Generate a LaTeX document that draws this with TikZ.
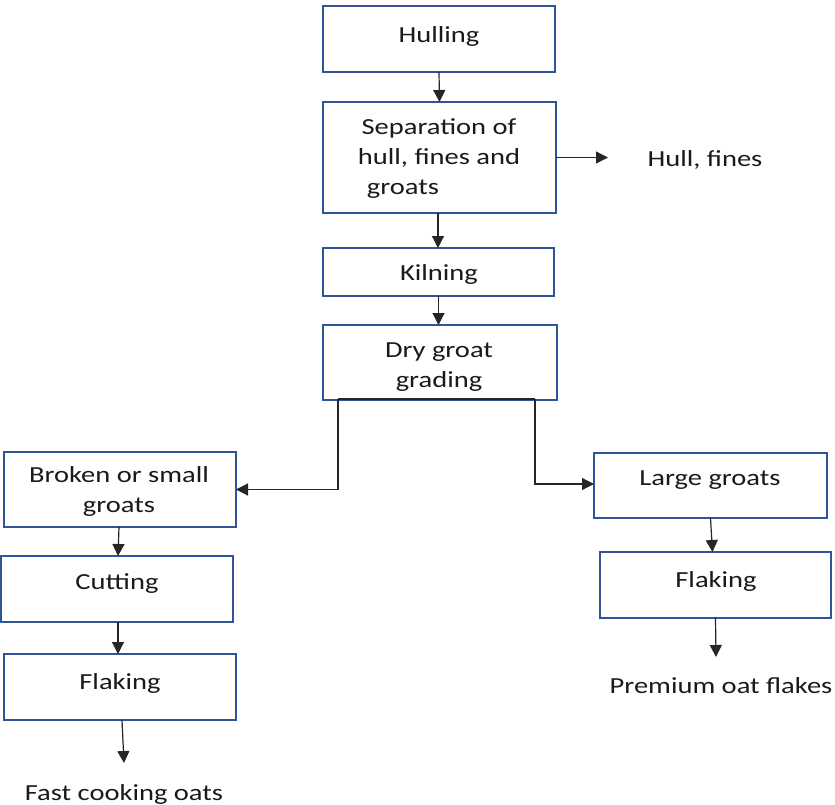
\documentclass[tikz,border=0pt]{standalone}
\usepackage{fontspec}
\setmainfont[FakeStretch=1.24]{Carlito}
\usetikzlibrary{arrows.meta}
\definecolor{boxblue}{HTML}{2F5597}
\definecolor{txtcol}{HTML}{1A1A1A}
\begin{document}
\begin{tikzpicture}[x=1pt,y=-1pt,
  box/.style={draw=boxblue, line width=2pt, inner sep=0pt, outer sep=0pt, fill=white},
  txt/.style={inner sep=0pt, align=center, text=txtcol, font=\fontsize{23}{30}\selectfont},
  conn/.style={draw=black!85, line width=1.2pt, -{Triangle[length=12pt,width=12pt]}},
  line/.style={draw=black!85, line width=1.2pt}]
\useasboundingbox (0,0) rectangle (835,805);
% boxes
\node[box, minimum width=232pt, minimum height=66pt] (hull) at (439,39) {};
\node[box, minimum width=233pt, minimum height=111pt] (sep) at (439.5,157.5) {};
\node[box, minimum width=231pt, minimum height=48pt] (kiln) at (438.5,272) {};
\node[box, minimum width=234pt, minimum height=75pt] (dry) at (440,362.5) {};
\node[box, minimum width=232pt, minimum height=75pt] (broken) at (120,489.5) {};
\node[box, minimum width=232pt, minimum height=66pt] (cut) at (117,589) {};
\node[box, minimum width=232pt, minimum height=66pt] (flakL) at (120,687) {};
\node[box, minimum width=233pt, minimum height=65pt] (large) at (710.5,485.5) {};
\node[box, minimum width=231pt, minimum height=66pt] (flakR) at (715.5,585) {};
% texts
\node[txt] (thull) at (439,36) {Hulling};
\node[txt] (tsep) at (439,159) {Separation of\\hull, fines and\\groats\hspace*{72pt}};
\node[txt] (tkiln) at (439,274) {Kilning};
\node[txt] (tdry) at (439,367) {Dry groat\\grading};
\node[txt] (tbroken) at (119,491.5) {Broken or small\\groats};
\node[txt] (tcut) at (117,584) {Cutting};
\node[txt] (tflakL) at (120,683) {Flaking};
\node[txt] (tlarge) at (710,480) {Large groats};
\node[txt] (tflakR) at (716,581) {Flaking};
\node[txt] (hf) at (705,160) {Hull, fines};
\node[txt] (fast) at (124,794) {Fast cooking oats};
\node[txt] (prem) at (721,686) {Premium oat flakes};
% helper coordinates
\coordinate (hfend) at (608,157.5);
\coordinate (lc) at (338,399);
\coordinate (rc) at (535,399);
\coordinate (fastend) at (124,763);
\coordinate (premend) at (716,657);
% connectors
\draw[conn] (hull.south) -- (sep.north);
\draw[conn] (sep.east) -- (hfend);
\draw[conn] ([xshift=-1.5pt]sep.south) -- ([xshift=-0.5pt]kiln.north);
\draw[conn] (kiln.south) -- ([xshift=-1.5pt]dry.north);
\draw[line] (lc) -- (rc);
\draw[conn] (lc) |- (broken.east);
\draw[conn] (rc) |- ([yshift=1.5pt]large.west);
\draw[conn] ([xshift=-1pt]broken.south) -- ([xshift=1pt]cut.north);
\draw[conn] ([xshift=1pt]cut.south) -- ([xshift=-2pt]flakL.north);
\draw[conn] ([xshift=2pt]flakL.south) -- (fastend);
\draw[conn] (large.south) -- ([xshift=-3pt]flakR.north);
\draw[conn] (flakR.south) -- (premend);
\end{tikzpicture}
\end{document}
